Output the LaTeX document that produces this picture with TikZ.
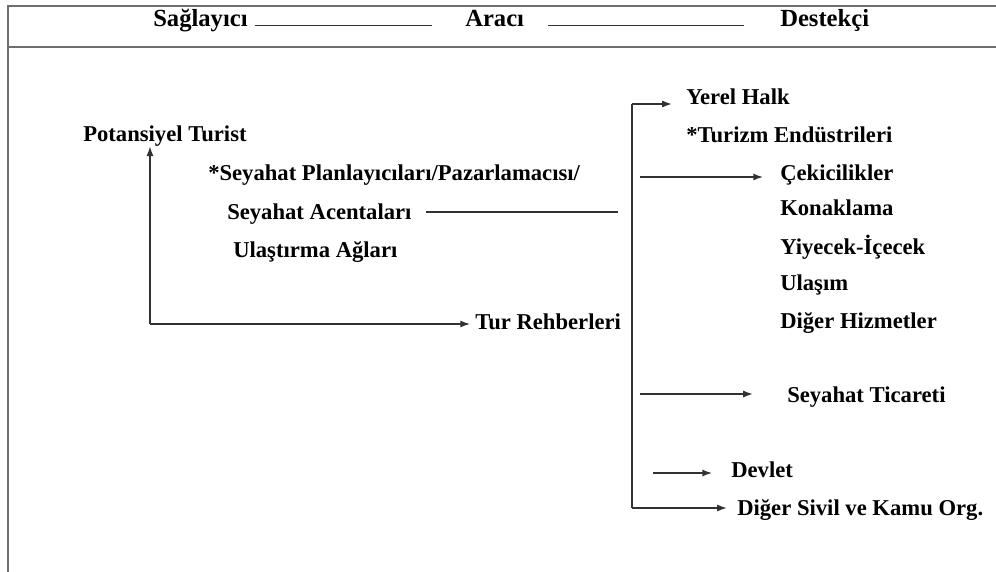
\documentclass[tikz,border=0pt]{standalone}
\usepackage{fontspec}
\setmainfont{Liberation Serif}
\usepackage{tikz}
\usetikzlibrary{arrows.meta}
\definecolor{framegray}{RGB}{110,110,110}
\definecolor{linkgray}{RGB}{50,50,50}
\tikzset{
	itemnode/.style={anchor=base west, inner sep=0pt, font=\fontsize{16.1}{19}\selectfont\bfseries},
	headnode/.style={anchor=base west, inner sep=0pt, font=\fontsize{17.5}{21}\selectfont\bfseries},
	frameline/.style={framegray, line width=1.4pt},
	linkline/.style={linkgray, line width=1.1pt},
	linkarrow/.style={linkline, -{Latex[length=7pt,width=5pt]}}
}

\begin{document}
\begin{tikzpicture}[x=0.025cm, y=-0.025cm]
			\useasboundingbox (0,0) rectangle (996,572);
			% frame
			\draw[frameline] (8,572) -- (8,6) -- (996,6);
			\draw[frameline] (8,47) -- (996,47);
			
			% header
			\node[headnode] (sag) at (153,27) {Sağlayıcı};
			\node[headnode] (arac) at (465,27) {Aracı};
			\node[headnode] (destek) at (780,27) {Destekçi};
			\draw[linkline] ([xshift=0.17cm,yshift=1pt]sag.base east) -- ([xshift=-0.82cm,yshift=1pt]arac.base west);
			\draw[linkline] ([xshift=0.6cm,yshift=1pt]arac.base east) -- ([xshift=-0.9cm,yshift=1pt]destek.base west);
			
			% saglayici / araci
			\node[itemnode] (turist) at (83,141) {Potansiyel Turist};
			\node[itemnode] (planlayici) at (208,180) {*Seyahat Planlayıcıları/Pazarlamacısı/};
			\node[itemnode] (acenta) at (227,219) {Seyahat Acentaları};
			\node[itemnode] (ulastirma) at (233,257) {Ulaştırma Ağları};
			\node[itemnode] (rehber) at (475,329) {Tur Rehberleri};
			
			% destekci
			\node[itemnode] (halk) at (686,104) {Yerel Halk};
			\node[itemnode] (endustri) at (686,142) {*Turizm Endüstrileri};
			\node[itemnode] (cekici) at (780,180) {Çekicilikler};
			\node[itemnode] (konak) at (780,215) {Konaklama};
			\node[itemnode] (yiyecek) at (780,254) {Yiyecek-İçecek};
			\node[itemnode] (ulasim) at (780,290) {Ulaşım};
			\node[itemnode] (hizmet) at (780,328) {Diğer Hizmetler};
			\node[itemnode] (ticaret) at (787,402) {Seyahat Ticareti};
			\node[itemnode] (devlet) at (731,477) {Devlet};
			\node[itemnode] (sivil) at (737,515) {Diğer Sivil ve Kamu Org.};
			
			\coordinate (corner) at (150,324);
			\coordinate (spinetop) at (632,104);
			\coordinate (spinebot) at (632,508);
			\coordinate (acentaend) at (618,212);
			\coordinate (cekicitail) at (640,177);
			\coordinate (ticarettail) at (640,394);
			\coordinate (devlettail) at (653,473);
			
			\draw[linkarrow] (corner) -- (corner |- turist.south);
			\draw[linkarrow] (corner) -- ([xshift=-0.12cm]rehber.west |- corner);
			\draw[linkline] ([xshift=0.35cm]acenta.east |- acentaend) -- (acentaend);
			\draw[linkline] (spinebot) -- (spinetop);
			\draw[linkarrow] (spinetop) -- ([xshift=-0.35cm]halk.west |- spinetop);
			\draw[linkarrow] (cekicitail) -- ([xshift=-0.42cm]cekici.west |- cekicitail);
			\draw[linkarrow] (ticarettail) -- ([xshift=-0.85cm]ticaret.west |- ticarettail);
			\draw[linkarrow] (devlettail) -- ([xshift=-0.47cm]devlet.west |- devlettail);
			\draw[linkarrow] (spinebot) -- ([xshift=-0.25cm]sivil.west |- spinebot);
\end{tikzpicture}
\end{document}
